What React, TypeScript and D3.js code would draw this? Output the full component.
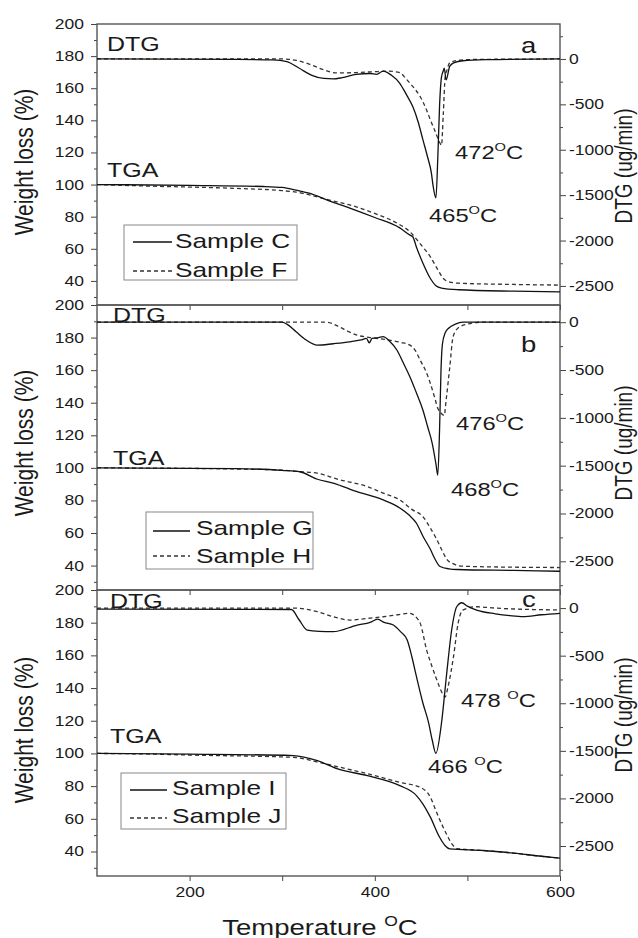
import React, { useEffect, useRef } from 'react';
import * as d3 from 'd3';

type Pt = [number, number];

// axis ticks
const tempTicks = [200, 400, 600];
const tempMinor = [300, 500];
const wtTicks = [40, 60, 80, 100, 120, 140, 160, 180, 200];
const dtgTicks = [-2500, -2000, -1500, -1000, -500, 0];

// panel a : [temperature, value]
const dtgC: Pt[] = [[100, 0], [250, -5], [290, -10], [305, -30], [318, -100], [332, -180], [345, -215], [355, -220], [365, -205], [380, -170], [395, -160], [402, -170], [409, -135], [418, -180], [427, -268], [434, -390], [441, -525], [447, -700], [452, -892], [457, -1080], [461, -1250], [463, -1400], [466, -1530], [468, -1100], [470, -500], [472, -200], [474, -130], [475, -100], [477, -231], [481, -80], [486, -40], [495, -20], [520, -8], [600, 0]];
const dtgF: Pt[] = [[100, 0], [300, 0], [315, -15], [330, -60], [345, -120], [359, -154], [380, -150], [400, -140], [415, -135], [427, -150], [433, -210], [438, -268], [444, -340], [449, -415], [455, -540], [460, -670], [466, -820], [470, -920], [472, -950], [474, -600], [476, -200], [478, -120], [481, -40], [490, -15], [510, -5], [600, 0]];
const tgaC: Pt[] = [[100, 100], [200, 99.5], [280, 98.8], [300, 98.2], [315, 96.5], [330, 94.5], [350, 90], [373, 85.4], [400, 79.5], [427, 73], [438, 68.5], [441, 67.5], [445, 61], [452, 51], [460, 41.5], [466, 37], [472, 35.5], [490, 34.5], [550, 33.6], [600, 33.2]];
const tgaF: Pt[] = [[100, 100], [160, 99], [250, 97.6], [300, 96.2], [315, 95.3], [330, 93.5], [350, 90.5], [373, 87.3], [400, 82], [427, 75], [438, 70.6], [445, 66], [452, 61], [460, 55], [468, 47], [474, 41.5], [480, 39.5], [490, 38.6], [550, 37.8], [600, 37.4]];

// panel b
const dtgG: Pt[] = [[100, 0], [300, 0], [305, -20], [315, -100], [325, -180], [338, -240], [355, -225], [373, -205], [385, -185], [391, -170], [394, -215], [397, -170], [404, -160], [409, -150], [416, -200], [424, -293], [431, -430], [438, -572], [445, -740], [452, -920], [457, -1090], [462, -1266], [466, -1480], [468, -1600], [470, -1100], [471.5, -500], [473, -230], [476, -110], [480, -60], [487, -20], [495, 0], [600, 0]];
const dtgH: Pt[] = [[100, 0], [348, 0], [360, -40], [372, -100], [381, -136], [395, -160], [416, -188], [428, -210], [438, -240], [444, -300], [449, -397], [455, -510], [460, -640], [465, -800], [468, -900], [472, -955], [475, -975], [477, -816], [481, -467], [484.5, -153], [490, -60], [500, -20], [515, 0], [600, 0]];
const tgaG: Pt[] = [[100, 100], [250, 99.5], [300, 98.5], [319, 97.6], [338, 93], [355, 90.7], [380, 85.5], [409, 80.3], [427, 75.4], [437, 71], [445, 66], [452, 58], [460, 50], [465, 44], [470, 39.6], [480, 38], [489, 37.6], [550, 37], [600, 36.5]];
const tgaH: Pt[] = [[100, 100], [250, 99.3], [300, 98.6], [320, 97.6], [338, 96.7], [360, 93], [392, 88.5], [409, 84.5], [427, 80.3], [440, 74.5], [452, 70], [460, 63], [467, 55.9], [472, 50], [478, 43.7], [485, 41], [495, 39.6], [550, 39], [600, 38.8]];

// panel c
const dtgI: Pt[] = [[100, -10], [310, -15], [318, -120], [327, -231], [340, -245], [355, -248], [381, -178], [395, -150], [403, -117], [410, -150], [420, -178], [428, -250], [435, -336], [440, -511], [445, -721], [452, -1000], [458, -1200], [462, -1386], [466, -1525], [472, -1210], [477.5, -700], [483, -230], [488.5, 14], [494, 56], [500, 20], [510, -21], [530, -60], [546, -80], [560, -90], [580, -70], [600, -55]];
const dtgJ: Pt[] = [[100, 0], [312, 0], [338, -38], [355, -90], [373, -126], [390, -110], [409, -91], [425, -70], [438, -55], [445, -100], [449, -158], [456, -441], [462, -620], [467, -756], [474, -913], [476, -935], [479, -830], [485, -511], [490, -158], [495, -21], [510, 14], [530, 0], [600, -20]];
const tgaI: Pt[] = [[100, 100], [200, 99.6], [312, 98.7], [338, 95.6], [360, 90.5], [392, 86.4], [427, 80.3], [445, 74.2], [452, 69], [460, 61], [470, 48.7], [476, 43.5], [481, 41.6], [517, 40.6], [550, 39], [589, 36.5], [600, 36]];
const tgaJ: Pt[] = [[100, 100], [160, 99.6], [200, 99], [312, 97.6], [340, 94.5], [370, 90.5], [392, 87.6], [427, 82.3], [449, 79.3], [460, 73.2], [466, 65], [472, 57], [478, 50], [483, 44.8], [489, 41.8], [517, 40.6], [550, 39], [589, 36.5], [600, 36]];

const sampleNames = [['Sample C', 'Sample F'], ['Sample G', 'Sample H'], ['Sample I', 'Sample J']];
const peakSolid = ['465', '468', '466 '];
const peakDashed = ['472', '476', '478 '];
const panelTags = ['a', 'b', 'c'];

const FONT = '"Liberation Sans", Arial, sans-serif';
const SX = 1.25; // glyphs in the source are wide
const INK = '#1a1a1a';

const panels = [
  {
    top: 24, bottom: 305, dtgDomain: [-2710, 385], solid: [dtgC, tgaC], dashed: [dtgF, tgaF],
    dtgLab: [107, 51], tgaLab: [107, 177], tag: [521, 53], pkDashed: [455, 159], pkSolid: [429, 222],
    legend: { x: 124, y: 225, w: 173, h: 55, lx: 133, lw: 39, ly: [242, 271], tx: 175, ty: [248, 277] },
    titleY: 162, rTitleY: 166,
  },
  {
    top: 305, bottom: 590, dtgDomain: [-2800, 180], solid: [dtgG, tgaG], dashed: [dtgH, tgaH],
    dtgLab: [113, 322], tgaLab: [113, 465], tag: [521, 352], pkDashed: [456, 430], pkSolid: [451, 496],
    legend: { x: 146, y: 512, w: 167, h: 57, lx: 153, lw: 37, ly: [531, 556], tx: 196, ty: [535, 563] },
    titleY: 443, rTitleY: 443,
  },
  {
    top: 590, bottom: 876, dtgDomain: [-2815, 190], solid: [dtgI, tgaI], dashed: [dtgJ, tgaJ],
    dtgLab: [110, 608], tgaLab: [110, 743], tag: [522, 607], pkDashed: [461, 707], pkSolid: [428, 773],
    legend: { x: 121, y: 773, w: 165, h: 56, lx: 130, lw: 37, ly: [790, 818], tx: 172, ty: [795, 823] },
    titleY: 730, rTitleY: 715,
  },
];

const plain = (d: any) => String(d);

function stretch(sel: any) {
  sel.selectAll('text').each(function (this: any) {
    const t = d3.select(this);
    const x = +t.attr('x') || 0;
    t.attr('x', x / SX).attr('transform', `scale(${SX},1)`).attr('fill', INK);
  });
}

function label(g: any, x: number, y: number, text: string, size: number, anchor = 'start', rot = 0) {
  return g.append('text')
    .attr('transform', `translate(${x},${y}) scale(${SX},1)${rot ? ` rotate(${rot})` : ''}`)
    .attr('font-size', size)
    .attr('text-anchor', anchor)
    .attr('fill', INK)
    .text(text);
}

function degLabel(g: any, x: number, y: number, num: string, size: number, anchor = 'start') {
  const t = g.append('text')
    .attr('transform', `translate(${x},${y}) scale(${SX},1)`)
    .attr('font-size', size)
    .attr('text-anchor', anchor)
    .attr('fill', INK);
  t.append('tspan').text(num);
  t.append('tspan').attr('font-size', size * 0.62).attr('dy', -size * 0.42).text('O');
  t.append('tspan').attr('dy', size * 0.42).text('C');
  return t;
}

const App = () => {
  const ref = useRef<SVGSVGElement>(null);

  useEffect(() => {
    const svg = d3.select(ref.current);
    svg.selectAll('*').remove();
    svg.attr('font-family', FONT);

    const x = d3.scaleLinear().domain([100, 600]).range([97, 560]);
    const [x0, x1] = x.range();

    panels.forEach((p, i) => {
      const yL = d3.scaleLinear().domain([25, 200]).range([p.bottom, p.top]);
      const yR = d3.scaleLinear().domain(p.dtgDomain).range([p.bottom, p.top]);
      const g = svg.append('g');

      // left axis
      const left = g.append('g').attr('transform', `translate(${x0},0)`)
        .call(d3.axisLeft(yL).tickValues(wtTicks).tickSize(6).tickPadding(7).tickFormat(plain))
        .attr('font-size', 14).attr('font-family', FONT).attr('color', '#444');
      left.select('.domain').remove();
      stretch(left);
      g.append('g').attr('transform', `translate(${x0},0)`)
        .call(d3.axisLeft(yL).tickValues(d3.range(30, 200, 20)).tickSize(3).tickFormat(() => ''))
        .attr('color', '#444').select('.domain').remove();

      // right axis
      const right = g.append('g').attr('transform', `translate(${x1},0)`)
        .call(d3.axisRight(yR).tickValues(dtgTicks).tickSize(6).tickPadding(3).tickFormat(plain))
        .attr('font-size', 14).attr('font-family', FONT).attr('color', '#444');
      right.select('.domain').remove();
      stretch(right);
      const [dLo, dHi] = p.dtgDomain;
      g.append('g').attr('transform', `translate(${x1},0)`)
        .call(d3.axisRight(yR).tickValues(d3.range(-2750, 300, 500).filter(v => v > dLo && v < dHi)).tickSize(3).tickFormat(() => ''))
        .attr('color', '#444').select('.domain').remove();

      // bottom axis
      const last = i === panels.length - 1;
      const bottom = g.append('g').attr('transform', `translate(0,${p.bottom})`)
        .call(d3.axisBottom(x).tickValues(tempTicks).tickSize(5).tickPadding(6).tickFormat(last ? plain : () => ''))
        .attr('font-size', 14).attr('font-family', FONT).attr('color', '#444');
      bottom.select('.domain').remove();
      stretch(bottom);
      g.append('g').attr('transform', `translate(0,${p.bottom})`)
        .call(d3.axisBottom(x).tickValues(tempMinor).tickSize(5).tickFormat(() => ''))
        .attr('color', '#444').select('.domain').remove();

      // frame
      g.append('rect')
        .attr('x', x0).attr('y', p.top)
        .attr('width', x1 - x0).attr('height', p.bottom - p.top)
        .attr('fill', 'none').attr('stroke', '#555').attr('stroke-width', 1.4);

      // curves
      const lineL = d3.line<Pt>().x(d => x(d[0])).y(d => yL(d[1])).curve(d3.curveMonotoneX);
      const lineR = d3.line<Pt>().x(d => x(d[0])).y(d => yR(d[1])).curve(d3.curveMonotoneX);
      const curves = [
        { data: p.dashed[0], line: lineR, dash: true },
        { data: p.dashed[1], line: lineL, dash: true },
        { data: p.solid[0], line: lineR, dash: false },
        { data: p.solid[1], line: lineL, dash: false },
      ];
      curves.forEach(c => {
        g.append('path').datum(c.data)
          .attr('d', c.line as any)
          .attr('fill', 'none')
          .attr('stroke', c.dash ? '#333' : '#111')
          .attr('stroke-width', 1.3)
          .attr('stroke-dasharray', c.dash ? '4,3' : null);
      });

      // labels
      label(g, p.dtgLab[0], p.dtgLab[1], 'DTG', 20);
      label(g, p.tgaLab[0], p.tgaLab[1], 'TGA', 20);
      label(g, p.tag[0], p.tag[1], panelTags[i], 22);
      degLabel(g, p.pkDashed[0], p.pkDashed[1], peakDashed[i], 19);
      degLabel(g, p.pkSolid[0], p.pkSolid[1], peakSolid[i], 19);

      // legend
      const L = p.legend;
      const lg = g.append('g');
      lg.append('rect').attr('x', L.x).attr('y', L.y).attr('width', L.w).attr('height', L.h)
        .attr('fill', 'white').attr('stroke', '#888').attr('stroke-width', 1);
      sampleNames[i].forEach((name, k) => {
        lg.append('line')
          .attr('x1', L.lx).attr('x2', L.lx + L.lw)
          .attr('y1', L.ly[k]).attr('y2', L.ly[k])
          .attr('stroke', k === 0 ? '#111' : '#333').attr('stroke-width', 1.3)
          .attr('stroke-dasharray', k === 0 ? null : '4,3');
        label(lg, L.tx, L.ty[k], name, 21);
      });

      // axis titles
      label(g, 33, p.titleY, 'Weight loss (%)', 21, 'middle', -90);
      label(g, 632, p.rTitleY, 'DTG (ug/min)', 19, 'middle', -90);
    });

    const t = svg.append('text')
      .attr('transform', `translate(320,935) scale(${SX},1)`)
      .attr('font-size', 22).attr('text-anchor', 'middle').attr('fill', INK);
    t.append('tspan').text('Temperature ');
    t.append('tspan').attr('font-size', 14).attr('dy', -9).text('O');
    t.append('tspan').attr('dy', 9).text('C');
  }, []);

  return (
    <svg ref={ref} width={638} height={938} style={{ position: 'absolute', left: 0, top: 0, background: 'white' }}></svg>
  );
};

export default App;
